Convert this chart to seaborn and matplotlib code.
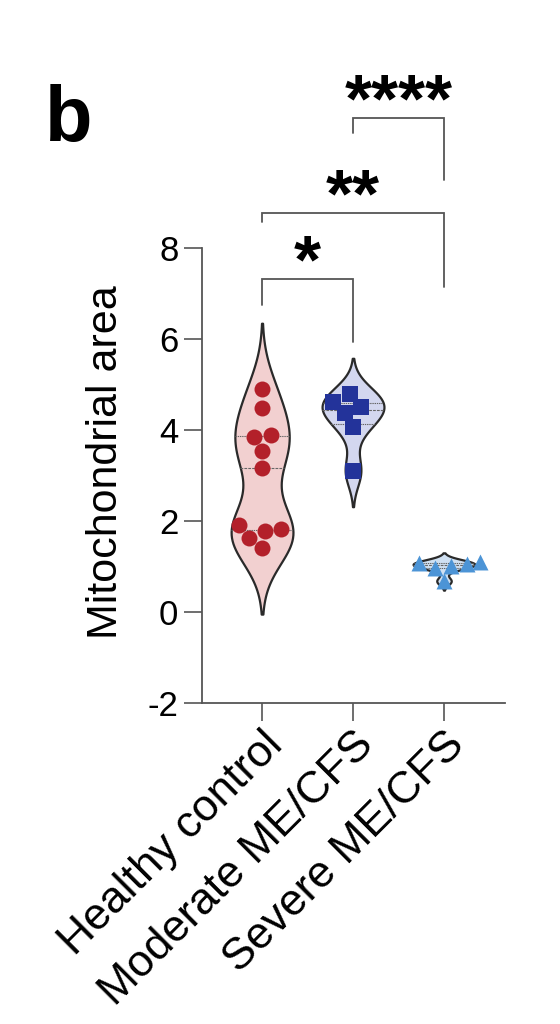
import matplotlib
matplotlib.use("Agg")
import matplotlib.pyplot as plt
import numpy as np
import pandas as pd
import seaborn as sns

groups = ["Healthy control", "Moderate ME/CFS", "Severe ME/CFS"]
healthy = [4.90, 4.49, 3.89, 3.85, 3.54, 3.17, 1.91, 1.82, 1.78, 1.63, 1.40]
moderate = [4.79, 4.62, 4.51, 4.37, 4.06, 3.10]
severe = [1.10, 1.08, 1.06, 1.00, 0.97, 0.68]

fill_colors = ["#F2D0D0", "#D3D7EF", "#CFE0F2"]
point_colors = ["#B3202A", "#23339A", "#4C94D6"]
markers = ["o", "s", "^"]

# significance brackets: (left group, right group, label)
comparisons = [(0, 1, "*"), (0, 2, "**"), (1, 2, "****")]
bracket_y = [7.32, 8.77, 10.86]
leg_ends = [(6.75, 5.93), (8.57, 7.14), (10.53, 9.49)]

df = pd.DataFrame({
    "group": np.repeat(groups, [len(healthy), len(moderate), len(severe)]),
    "value": healthy + moderate + severe,
})

sns.set_theme(style="ticks")
plt.rcParams["font.family"] = ["Liberation Sans", "DejaVu Sans"]
plt.rcParams["axes.unicode_minus"] = False
plt.rcParams["text.color"] = "black"
plt.rcParams["axes.labelcolor"] = "black"

fig = plt.figure(figsize=(5.6, 10.24), dpi=100)
ax = fig.add_axes([0.3607, 0.3135, 0.541, 0.4443])

sns.violinplot(
    data=df, x="group", y="value", hue="group", order=groups,
    palette=fill_colors, saturation=1, inner="quart", cut=2.3, bw_adjust=0.8,
    density_norm="width", width=0.68, linewidth=1.6, linecolor="#2a2a2a",
    inner_kws=dict(linewidth=0.8, color="#666666"), legend=False, ax=ax,
)

for g, c, m in zip(groups, point_colors, markers):
    sns.swarmplot(
        data=df[df["group"] == g], x="group", y="value", order=groups,
        color=c, marker=m, size=11.5, linewidth=0, ax=ax,
    )

for (a, b, lab), y, (la, lb) in zip(comparisons, bracket_y, leg_ends):
    ax.plot([a, a, b, b], [la, y, y, lb], color="#555555", lw=1.3,
            clip_on=False, solid_joinstyle="miter")
    ax.text((a + b) / 2, y - 0.08, lab, ha="center", va="baseline",
            fontsize=50, fontweight="bold", color="black", clip_on=False)

ax.set_ylim(-2, 8)
ax.set_xlim(-0.66, 2.67)
ax.set_yticks(range(-2, 9, 2))
ax.set_xlabel("")
ax.set_ylabel("Mitochondrial area", fontsize=31)
ax.yaxis.set_label_coords(-0.25, 0.53)
ax.tick_params(axis="y", labelsize=25, length=13, width=1.2, color="#555555",
               labelcolor="black", pad=4)
ax.tick_params(axis="x", labelsize=32, length=13, width=1.2, color="#555555",
               labelcolor="black", pad=2)
for lbl in ax.get_xticklabels():
    lbl.set_rotation(45)
    lbl.set_ha("right")
    lbl.set_rotation_mode("anchor")

sns.despine(ax=ax)
for s in ["left", "bottom"]:
    ax.spines[s].set_color("#555555")
    ax.spines[s].set_linewidth(1.3)

fig.text(0.08, 0.862, "b", fontsize=56, fontweight="bold", color="black",
         ha="left", va="baseline")

fig.savefig("out.png", dpi=100)
